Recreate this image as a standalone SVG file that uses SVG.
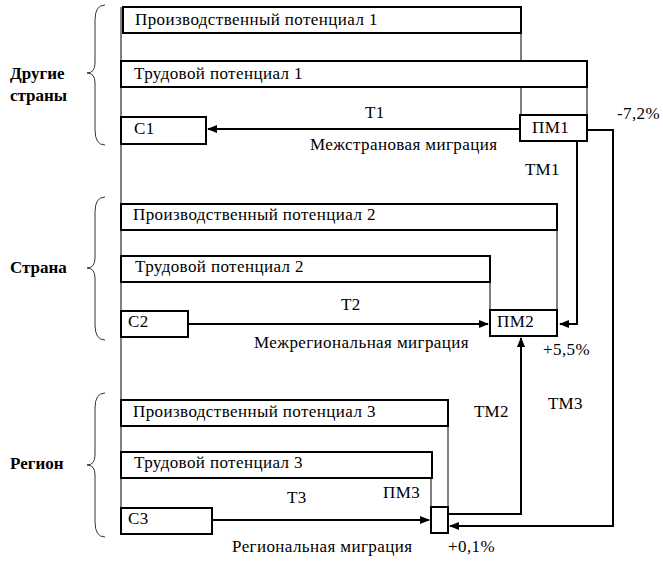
<svg xmlns="http://www.w3.org/2000/svg" width="663" height="561" viewBox="0 0 663 561">
<defs>
<marker id="ah" markerWidth="10" markerHeight="8" refX="9" refY="4" orient="auto" markerUnits="userSpaceOnUse">
<path d="M0,0 L10,4 L0,8 Z" fill="#000"/>
</marker>
<style>
.box{fill:#fff;stroke:#000;stroke-width:2}
.thin{fill:none;stroke:#000;stroke-width:1}
.arr{fill:none;stroke:#000;stroke-width:2}
.br{fill:none;stroke:#333;stroke-width:1}
text{font-family:"Liberation Serif","Times New Roman",Tinos,"Noto Serif","DejaVu Serif",FreeSerif,serif;font-size:17px;letter-spacing:0.4px;fill:#000}
.b{font-weight:bold;font-size:17px;letter-spacing:0}
</style>
</defs>
<rect width="663" height="561" fill="#fff"/>
<g id="braces">
<path class="br" d="M105,5 Q95,5 95,20 L95,63 Q95,73 87,73 Q95,73 95,83 L95,130 Q95,145 105,145"/>
<path class="br" d="M105,197 Q95,197 95,212 L95,258 Q95,268 87,268 Q95,268 95,278 L95,325 Q95,340 105,340"/>
<path class="br" d="M105,393 Q95,393 95,408 L95,455 Q95,465 87,465 Q95,465 95,475 L95,522 Q95,537 105,537"/>
</g>
<g id="group-labels">
<text class="b" x="10" y="79">Другие</text>
<text class="b" x="10" y="101">страны</text>
<text class="b" x="10" y="273">Страна</text>
<text class="b" x="10" y="469">Регион</text>
</g>
<g id="connectors">
<line class="thin" x1="121" y1="7" x2="121" y2="534"/>
<line class="thin" x1="521" y1="33" x2="521" y2="115"/>
<line class="thin" x1="587" y1="87" x2="587" y2="115"/>
<line class="thin" x1="557" y1="230" x2="557" y2="310"/>
<line class="thin" x1="490" y1="282" x2="490" y2="310"/>
<line class="thin" x1="448" y1="426" x2="448" y2="507"/>
<line class="thin" x1="431" y1="478" x2="431" y2="507"/>
<line class="arr" x1="520" y1="129" x2="208" y2="129" marker-end="url(#ah)"/>
<line class="arr" x1="189" y1="324" x2="488" y2="324" marker-end="url(#ah)"/>
<line class="arr" x1="212" y1="520" x2="429" y2="520" marker-end="url(#ah)"/>
<polyline class="arr" points="577,141 577,324 560,324" marker-end="url(#ah)"/>
<polyline class="arr" points="588,130 613,130 613,526 450,526" marker-end="url(#ah)"/>
<polyline class="arr" points="449,514 521,514 521,338" marker-end="url(#ah)"/>
</g>
<g id="n-pp1"><rect class="box" x="123" y="7" width="398" height="26"/><text x="135" y="25">Производственный потенциал 1</text></g>
<g id="n-tp1"><rect class="box" x="121" y="61" width="466" height="26"/><text x="134" y="79">Трудовой потенциал 1</text></g>
<g id="n-c1"><rect class="box" x="121" y="117" width="85" height="27"/><text x="134" y="134">С1</text></g>
<g id="n-pm1"><rect class="box" x="520" y="115" width="67" height="26"/><text x="532" y="133">ПМ1</text></g>
<g id="n-pp2"><rect class="box" x="121" y="204" width="436" height="26"/><text x="133" y="220">Производственный потенциал 2</text></g>
<g id="n-tp2"><rect class="box" x="121" y="256" width="369" height="26"/><text x="135" y="272">Трудовой потенциал 2</text></g>
<g id="n-c2"><rect class="box" x="121" y="311" width="67" height="26"/><text x="128" y="327">С2</text></g>
<g id="n-pm2"><rect class="box" x="490" y="310" width="67" height="26"/><text x="497" y="327">ПМ2</text></g>
<g id="n-pp3"><rect class="box" x="121" y="400" width="327" height="26"/><text x="133" y="417">Производственный потенциал 3</text></g>
<g id="n-tp3"><rect class="box" x="121" y="452" width="311" height="26"/><text x="134" y="468">Трудовой потенциал 3</text></g>
<g id="n-c3"><rect class="box" x="121" y="508" width="91" height="26"/><text x="128" y="524">С3</text></g>
<g id="n-pm3"><rect class="box" x="431" y="507" width="17" height="26"/><text x="383" y="498">ПМ3</text></g>
<g id="labels">
<text x="365" y="118">Т1</text>
<text x="310" y="150">Межстрановая миграция</text>
<text x="617" y="119">-7,2%</text>
<text x="525" y="175">ТМ1</text>
<text x="341" y="310">Т2</text>
<text x="254" y="348">Межрегиональная миграция</text>
<text x="543" y="355">+5,5%</text>
<text x="474" y="417">ТМ2</text>
<text x="548" y="409">ТМ3</text>
<text x="287" y="503">Т3</text>
<text x="232" y="552">Региональная миграция</text>
<text x="448" y="552">+0,1%</text>
</g>
</svg>
